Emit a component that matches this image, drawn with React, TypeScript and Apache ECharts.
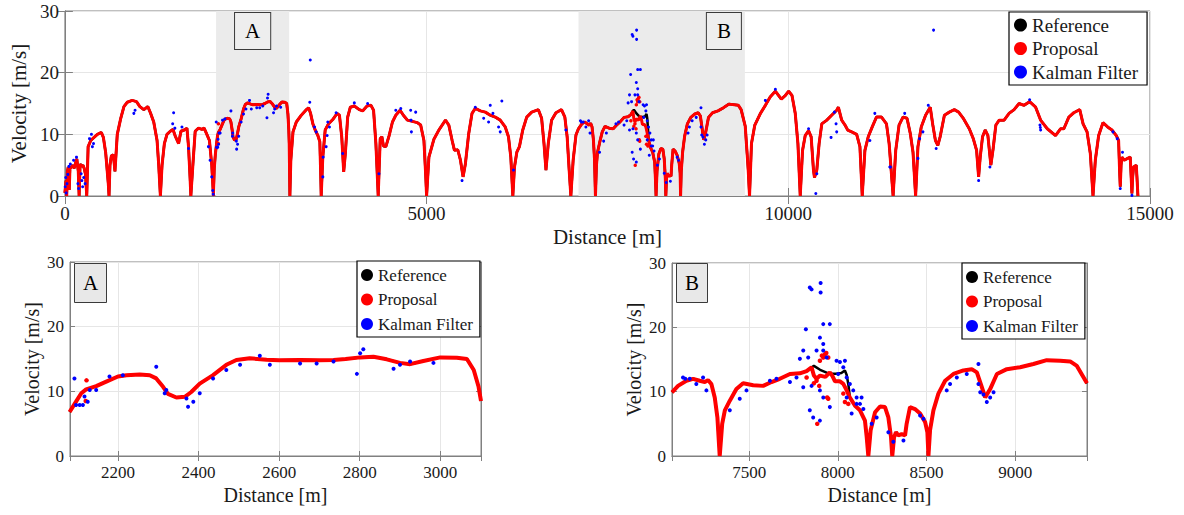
import React, { useEffect, useRef } from "react";
import * as echarts from "echarts";

type P = [number, number];

// ---- speed profile segments (distance [m], velocity [m/s]) ----
const seg0: P[] = [
  [0, 0.5], [15, 2.5], [25, 0], [35, 4.0], [46, 4.7], [60, 1.0], [70, 4.5], [90, 4.7], [105, 5.0], [130, 4.5],
  [150, 5.5], [165, 6.0], [175, 5.0], [185, 4.0], [197, 0], [210, 5.2], [230, 4.8], [250, 5.0], [266, 4.5],
  [285, 3.5], [302, 0], [321, 8.0], [357, 9.0], [403, 9.5], [449, 10.0], [504, 10.3], [532, 9.5], [564, 7.0],
  [600, 2.0], [610, 0], [623, 5.0], [642, 6.5], [669, 6.7], [680, 5.5], [692, 4.0], [724, 10.0], [770, 12.5],
  [816, 14.5], [862, 15.2], [930, 15.5], [990, 15.3], [1036, 14.5], [1091, 14.0], [1146, 14.5], [1182, 13.5],
  [1228, 12.0], [1274, 9.0], [1297, 5.0], [1320, 0], [1343, 5.0], [1375, 8.5], [1411, 10.0], [1457, 10.5],
  [1494, 10.8], [1526, 9.7], [1572, 8.5], [1604, 10.5], [1650, 10.7], [1687, 11.0], [1709, 8.0], [1730, 3.0],
  [1741, 0], [1769, 5.0], [1801, 10.5], [1847, 11.0], [1893, 10.8], [1925, 11.0], [1962, 10.0], [1998, 9.0],
  [2030, 5.0], [2053, 0], [2065, 4.5], [2080, 6.8],
];
const segA: P[] = [
  [2096, 8.4], [2109, 9.7], [2121, 10.3], [2146, 10.8], [2171, 11.5], [2200, 12.3], [2221, 12.5], [2254, 12.6],
  [2279, 12.5], [2295, 12.0], [2312, 10.7], [2324, 9.6], [2345, 9.05], [2366, 9.15], [2382, 9.9], [2403, 11.2],
  [2436, 12.5], [2469, 14.1], [2494, 14.85], [2527, 15.1], [2569, 14.9], [2600, 14.8], [2652, 14.85], [2700, 14.8],
  [2735, 14.85], [2765, 15.0], [2801, 15.25], [2834, 15.35], [2867, 14.95], [2900, 14.4], [2925, 14.2],
  [2958, 14.7], [3000, 15.25], [3041, 15.2], [3066, 15.0], [3083, 13.3], [3095, 10.7], [3101, 8.5],
];
const seg2: P[] = [
  [3110, 0], [3123, 5.8], [3153, 10.4], [3199, 12.0], [3268, 13.1], [3337, 14.0], [3369, 14.3], [3396, 13.4],
  [3428, 11.7], [3460, 10.7], [3497, 9.8], [3524, 8.8], [3535, 4.0], [3543, 0], [3565, 6.3], [3598, 10.7],
  [3643, 11.7], [3703, 12.4], [3763, 13.4], [3795, 13.1], [3827, 9.6], [3854, 3.9], [3877, 6.9], [3909, 12.8],
  [3946, 14.4], [4001, 14.6], [4070, 14.0], [4116, 13.8], [4176, 14.6], [4231, 14.7], [4267, 13.9], [4299, 8.5],
  [4331, 0], [4359, 9.3], [4382, 9.6], [4404, 8.1], [4437, 8.0], [4482, 9.8], [4528, 12.0], [4574, 13.1],
  [4633, 13.9], [4679, 13.1], [4734, 12.3], [4803, 12.1], [4871, 11.9], [4918, 11.5], [4963, 9.0], [4985, 4.0],
  [5000, 0], [5032, 6.3], [5101, 9.2], [5170, 10.7], [5261, 12.3], [5307, 11.5], [5353, 9.0], [5385, 7.4],
  [5431, 7.5], [5468, 5.8], [5504, 3.1], [5536, 5.2], [5582, 10.1], [5628, 13.4], [5673, 14.2], [5743, 13.8],
  [5812, 13.6], [5880, 13.1], [5949, 12.8], [6018, 12.3], [6087, 11.2], [6132, 9.6], [6164, 6.3], [6192, 0],
  [6215, 4.7], [6247, 7.1], [6283, 8.0], [6329, 10.7], [6384, 12.8], [6453, 13.6], [6545, 14.0], [6590, 12.6],
  [6623, 8.5], [6650, 4.2], [6682, 8.5], [6728, 12.3], [6788, 13.5], [6865, 14.0], [6911, 12.8], [6943, 9.6],
  [6971, 4.2], [6994, 0], [7026, 5.8], [7065, 9.9],
];
const segB1: P[] = [
  [7099, 10.9], [7146, 11.7], [7184, 12.0], [7221, 11.7], [7250, 11.5], [7268, 11.8], [7287, 11.2], [7306, 9.1],
  [7321, 6.0], [7334, 0], [7348, 5.0], [7363, 7.1], [7391, 8.6], [7428, 10.4], [7466, 11.3], [7523, 11.0],
  [7579, 10.9], [7626, 11.5], [7673, 12.0], [7730, 12.75], [7786, 12.85], [7824, 13.2], [7852, 13.8],
];
const referenceB: P[] = [
  [7865, 14.0], [7900, 13.4], [7950, 12.8], [7990, 12.8], [8020, 12.9], [8040, 13.3], [8050, 12.6], [8060, 11.0],
];
const proposalB: P[] = [
  [7865, 12.5], [7880, 12.0], [7900, 12.5], [7930, 12.3], [7955, 13.0], [7970, 12.4], [7984, 11.6], [8012, 11.6],
  [8031, 11.2], [8050, 10.2],
];
const segB2: P[] = [
  [8068, 9.1], [8097, 7.8], [8125, 7.1], [8153, 5.5], [8163, 2.9], [8172, 0], [8185, 4.0], [8210, 6.8],
  [8238, 7.7], [8266, 7.6], [8285, 6.0], [8300, 2.9], [8307, 0], [8317, 2.9], [8328, 3.7], [8341, 3.2],
  [8360, 3.4], [8379, 3.2], [8388, 5.0], [8407, 7.6], [8435, 7.3], [8464, 6.6], [8492, 5.3], [8505, 3.7],
  [8511, 0], [8520, 4.0], [8539, 7.1], [8567, 9.7], [8605, 11.7], [8652, 12.75], [8708, 13.3], [8755, 13.5],
  [8784, 13.0], [8806, 11.2], [8831, 9.1], [8859, 10.4], [8897, 12.75], [8953, 13.5], [9028, 13.8], [9103, 14.3],
  [9178, 14.9], [9254, 14.8], [9310, 14.7], [9348, 14.0], [9405, 11.3],
];
const seg3: P[] = [
  [9430, 7.0], [9446, 4.2], [9464, 0], [9491, 8.5], [9537, 11.5], [9615, 13.4], [9683, 14.7], [9752, 16.1],
  [9821, 17.0], [9904, 15.7], [9959, 16.3], [10005, 17.0], [10051, 16.3], [10096, 13.4], [10133, 8.5], [10165, 0],
  [10197, 7.4], [10234, 9.8], [10280, 10.6], [10316, 9.6], [10348, 4.2], [10362, 3.0], [10394, 4.2], [10426, 8.5],
  [10463, 11.7], [10532, 12.3], [10600, 13.1], [10669, 13.9], [10692, 14.4], [10738, 12.3], [10784, 11.5],
  [10821, 10.7], [10876, 10.4], [10945, 10.0], [10990, 8.0], [11022, 0], [11059, 7.4], [11105, 9.6], [11160, 11.2],
  [11219, 12.8], [11288, 12.8], [11357, 11.7], [11394, 8.5], [11449, 0], [11485, 7.4], [11531, 11.5], [11586, 12.8],
  [11641, 12.6], [11687, 10.1], [11724, 7.1], [11760, 0], [11792, 8.0], [11838, 11.2], [11898, 13.1], [11962, 14.4],
  [11998, 11.5], [12034, 9.0], [12067, 8.2], [12099, 9.6], [12158, 13.1], [12226, 13.6], [12295, 14.0],
  [12355, 13.6], [12419, 12.6], [12502, 10.9], [12557, 9.3], [12603, 7.4], [12631, 3.1], [12653, 6.3],
  [12685, 9.6], [12722, 10.7], [12759, 9.8], [12800, 5.0], [12832, 7.7], [12869, 11.5], [12915, 12.3],
  [12983, 12.3], [13052, 13.4], [13121, 14.0], [13190, 15.0], [13258, 14.7], [13336, 15.3], [13419, 14.4],
  [13488, 12.3], [13580, 10.9], [13694, 9.8], [13763, 10.9], [13809, 10.9], [13878, 12.8], [13946, 13.5],
  [14029, 14.0], [14075, 11.7], [14130, 10.4], [14175, 6.9], [14212, 0], [14244, 5.8], [14290, 9.8],
  [14350, 11.9], [14414, 11.2], [14474, 10.7], [14534, 9.8], [14566, 9.0], [14580, 4.0], [14589, 1.5],
  [14600, 5.0], [14612, 6.3], [14644, 5.8], [14690, 6.1], [14727, 6.3], [14740, 3.0], [14750, 0.4],
  [14760, 3.0], [14773, 4.7], [14810, 5.0], [14820, 3.0], [14833, 0],
];

const proposalOutliers: P[] = [
  [2120, 8.5], [2122, 11.7], [7824, 12.2], [7865, 11.3], [7880, 11.7], [7884, 5.0], [7895, 10.9], [7899, 14.8],
  [7910, 15.6], [7918, 15.3], [7927, 15.8], [7935, 16.0], [7946, 15.3], [7940, 9.1], [7946, 8.9], [8031, 9.7],
  [8040, 8.4], [8059, 8.1],
];

const kalmanPoints: P[] = [
  [5, 1.5], [12, 3.0], [18, 0.5], [28, 2.0], [40, 3.5], [55, 4.8], [75, 5.2], [120, 5.8], [160, 6.3], [180, 2.0],
  [190, 1.2], [225, 3.6], [235, 2.5], [245, 1.5], [260, 3.0], [280, 2.0], [340, 9.3], [367, 10.0], [380, 8.0],
  [395, 8.5], [953, 13.4], [970, 13.9], [1503, 13.5], [1490, 11.7], [1520, 11.0], [1618, 11.2], [1709, 7.7],
  [1984, 8.0], [2007, 5.8], [2030, 3.1], [2044, 0.9], [2050, 0.3],
  [2092, 12.0], [2096, 7.9], [2105, 7.9], [2113, 7.9], [2117, 9.2], [2125, 8.4], [2130, 10.2], [2146, 10.2],
  [2179, 12.3], [2212, 12.5], [2295, 13.8], [2316, 9.7], [2320, 10.2], [2370, 8.9], [2374, 7.6], [2387, 8.4],
  [2403, 9.7], [2436, 12.0], [2469, 13.3], [2503, 14.1], [2552, 15.5], [2577, 14.1], [2652, 14.3], [2693, 14.3],
  [2735, 14.6], [2793, 12.7], [2801, 15.9], [2809, 16.5], [2884, 13.5], [2900, 14.1], [2925, 14.6], [2983, 14.4],
  [3385, 15.2], [3392, 22.05], [3451, 11.2], [3474, 10.4], [3565, 3.1], [3570, 6.3], [3611, 8.0], [3625, 9.8],
  [3634, 12.0], [3657, 11.2], [3749, 13.5], [3840, 6.9], [4001, 15.1], [4185, 15.0], [4341, 3.6], [4574, 13.9],
  [4643, 14.2], [4780, 13.9], [4785, 12.3], [4790, 10.4], [4849, 13.6], [5490, 2.5], [5673, 14.4], [5789, 12.6],
  [5857, 12.0], [5880, 14.7], [5917, 13.4], [5995, 11.2], [6018, 10.4], [6040, 15.4], [6201, 4.2], [6925, 10.7],
  [7127, 12.2], [7140, 12.0], [7165, 12.0], [7202, 11.2], [7240, 12.2], [7259, 10.2], [7391, 7.1], [7447, 8.9],
  [7485, 10.2], [7617, 11.7], [7654, 12.0], [7730, 11.5], [7767, 12.2], [7786, 15.1], [7805, 16.4], [7805, 10.7],
  [7820, 19.7], [7833, 15.3], [7842, 26.2], [7842, 7.1], [7852, 25.9], [7852, 10.9], [7861, 6.0], [7880, 16.4],
  [7899, 18.4], [7899, 10.2], [7899, 5.5], [7903, 26.9], [7903, 25.4], [7918, 17.4], [7918, 20.5], [7918, 16.4],
  [7918, 9.1], [7937, 15.3], [7955, 20.5], [7955, 7.6], [7993, 14.8], [8002, 12.75], [8012, 14.6], [8031, 13.8],
  [8040, 14.8], [8050, 12.2], [8050, 9.1], [8068, 11.2], [8078, 6.6], [8087, 10.2], [8106, 9.1], [8106, 8.1],
  [8125, 8.1], [8134, 9.1], [8144, 7.3], [8191, 5.0], [8219, 6.0], [8285, 3.7], [8313, 2.2], [8370, 2.4],
  [8464, 6.3], [8483, 5.8], [8614, 10.2], [8633, 11.2], [8671, 12.2], [8727, 12.75], [8793, 14.3], [8793, 11.2],
  [8803, 9.9], [8821, 9.55], [8840, 8.4], [8859, 9.1], [8878, 9.9],
  [9683, 15.5], [9821, 17.3], [10280, 10.9], [10380, 0.4], [10394, 3.6], [10591, 9.5], [10637, 13.6], [10660, 11.7],
  [10669, 10.4], [11128, 9.0], [11196, 13.4], [11403, 4.7], [11412, 4.7], [11609, 13.4], [11792, 6.1], [11815, 9.3],
  [11861, 10.4], [11935, 14.7], [12008, 26.9], [12044, 7.7], [12631, 2.5], [12787, 4.7], [13336, 15.6],
  [13479, 11.5], [13484, 11.1], [13488, 10.7], [14488, 10.4], [14547, 9.3], [14589, 1.2], [14620, 7.1], [14750, 0.1],
];

const bandA = [2090, 3100];
const bandB = [7100, 9400];
const fullRange = [0, 15000];
const rangeA = [2081, 3101];
const rangeB = [7065, 9405];
const velocityRange = [0, 30];
const seriesNames = ["Reference", "Proposal", "Kalman Filter"];

const referenceProfile: P[] = [...seg0, ...segA, ...seg2, ...segB1, ...referenceB, ...segB2, ...seg3];
const proposalProfile: P[] = [...seg0, ...segA, ...seg2, ...segB1, ...proposalB, ...segB2, ...seg3];

const FONT = "Liberation Serif, DejaVu Serif, Times New Roman, serif";
const TXT = "#1a1a1a";
const AXC = "#808080";

export default function App() {
  const ref = useRef<HTMLDivElement>(null);
  useEffect(() => {
    if (!ref.current) return;
    const chart = echarts.init(ref.current, undefined, { renderer: "svg" });

    const grids = [
      { left: 59, top: 11, width: 1091, height: 185 },
      { left: 70, top: 262, width: 411, height: 194 },
      { left: 672, top: 263, width: 415, height: 193 },
    ];
    const xr = [fullRange, rangeA, rangeB];
    const sizes = [
      { tick: 19, name: 21, nameGapX: 30, nameGapY: 32, tickLen: 8, red: 3, black: 2.5, dot: 3, legend: 19 },
      { tick: 17, name: 20, nameGapX: 29, nameGapY: 28, tickLen: 5, red: 4, black: 2.5, dot: 4, legend: 17 },
      { tick: 17, name: 20, nameGapX: 29, nameGapY: 28, tickLen: 5, red: 4, black: 2.5, dot: 4, legend: 17 },
    ];
    // keep only the part of a profile that lies in (or just before) a zoomed range
    const crop = (pts: P[], r: number[]) => pts.filter((p) => p[0] >= r[0] - 15 && p[0] <= r[1] + 1);

    const xAxis: any[] = [];
    const yAxis: any[] = [];
    grids.forEach((_, g) => {
      const s = sizes[g];
      const xBase: any = {
        type: "value",
        gridIndex: g,
        min: xr[g][0],
        max: xr[g][1],
        axisLine: { show: true, lineStyle: { color: AXC, width: 1 } },
        axisTick: { show: true, inside: true, length: s.tickLen, lineStyle: { color: AXC } },
      };
      if (g === 0) xBase.interval = 5000;
      else xBase.splitNumber = 5;
      xAxis.push({
        ...xBase,
        position: "bottom",
        name: "Distance [m]",
        nameLocation: "middle",
        nameGap: s.nameGapX,
        nameTextStyle: { fontFamily: FONT, fontSize: s.name, color: TXT },
        axisLabel: {
          show: true,
          fontFamily: FONT,
          fontSize: s.tick,
          color: TXT,
          margin: 8,
          showMinLabel: g === 0,
          showMaxLabel: g === 0,
          formatter: (v: number) => String(Math.round(v)),
        },
        splitLine: { show: true, lineStyle: { color: "#e6e6e6", width: 1 } },
      });
      xAxis.push({
        ...xBase,
        position: "top",
        axisLabel: { show: false },
        splitLine: { show: false },
      });
      const yBase: any = {
        type: "value",
        gridIndex: g,
        min: velocityRange[0],
        max: velocityRange[1],
        interval: 10,
        axisLine: { show: true, lineStyle: { color: AXC, width: 1 } },
        axisTick: { show: true, inside: true, length: s.tickLen, lineStyle: { color: AXC } },
      };
      yAxis.push({
        ...yBase,
        position: "left",
        name: "Velocity [m/s]",
        nameLocation: "middle",
        nameRotate: 90,
        nameGap: s.nameGapY,
        nameTextStyle: { fontFamily: FONT, fontSize: s.name, color: TXT },
        axisLabel: { show: true, fontFamily: FONT, fontSize: s.tick, color: TXT, margin: 6 },
        splitLine: { show: true, lineStyle: { color: "#e6e6e6", width: 1 } },
      });
      yAxis.push({
        ...yBase,
        position: "right",
        axisLabel: { show: false },
        splitLine: { show: false },
      });
    });

    const bandLabel = (text: string, pos: string, offset: number[]) => ({
      show: true,
      formatter: text,
      position: pos,
      distance: 2,
      offset,
      fontFamily: FONT,
      fontSize: 21,
      lineHeight: 20,
      color: "#000",
      backgroundColor: "#eeeeee",
      borderColor: "#3a3a3a",
      borderWidth: 1,
      padding: [8, 10, 8, 10],
    });

    const series: any[] = [
      {
        type: "line",
        xAxisIndex: 0,
        yAxisIndex: 0,
        data: [],
        z: 0,
        silent: true,
        markArea: {
          silent: true,
          itemStyle: { color: "#ebebeb", opacity: 1 },
          data: [
            [{ xAxis: bandA[0], label: bandLabel("A", "insideTop", [0, 0]) }, { xAxis: bandA[1] }],
            [{ xAxis: bandB[0], label: bandLabel("B", "insideTopRight", [-2, 0]) }, { xAxis: bandB[1] }],
          ],
        },
      },
    ];
    grids.forEach((_, g) => {
      const s = sizes[g];
      const xi = g * 2;
      const yi = g * 2;
      const refData = g === 0 ? referenceProfile : crop(referenceProfile, xr[g]);
      const propData = g === 0 ? proposalProfile : crop(proposalProfile, xr[g]);
      series.push({
        name: seriesNames[0],
        type: "line",
        xAxisIndex: xi,
        yAxisIndex: yi,
        data: refData,
        showSymbol: false,
        symbol: "none",
        color: "#000000",
        lineStyle: { color: "#000000", width: s.black },
        z: 2,
        silent: true,
      });
      series.push({
        name: seriesNames[1],
        type: "line",
        xAxisIndex: xi,
        yAxisIndex: yi,
        data: propData,
        showSymbol: false,
        symbol: "none",
        color: "#ff0000",
        lineStyle: { color: "#ff0000", width: s.red },
        z: 3,
        silent: true,
      });
      series.push({
        name: seriesNames[1],
        type: "scatter",
        xAxisIndex: xi,
        yAxisIndex: yi,
        data: proposalOutliers,
        symbol: "circle",
        symbolSize: s.dot + 0.5,
        color: "#ff0000",
        itemStyle: { color: "#ff0000", opacity: 1 },
        z: 3,
        silent: true,
      });
      series.push({
        name: seriesNames[2],
        type: "scatter",
        xAxisIndex: xi,
        yAxisIndex: yi,
        data: kalmanPoints,
        symbol: "circle",
        symbolSize: s.dot,
        color: "#0000ff",
        itemStyle: { color: "#0000ff", opacity: 1 },
        z: 4,
        silent: true,
      });
    });

    const legendBase = (g: number, left: number, top: number) => ({
      show: true,
      data: seriesNames,
      orient: "vertical",
      left,
      top,
      icon: "circle",
      itemWidth: g === 0 ? 13 : 12,
      itemHeight: g === 0 ? 13 : 12,
      itemGap: g === 0 ? 3.5 : 4.5,
      padding: g === 0 ? [3, 9, 3, 5] : [4, 7, 3, 4],
      borderColor: "#000",
      borderWidth: 1.2,
      borderRadius: 0,
      backgroundColor: "#ffffff",
      selectedMode: false,
      itemStyle: { opacity: 1 },
      textStyle: { fontFamily: FONT, fontSize: sizes[g].legend, color: TXT, lineHeight: 20 },
    });

    const boxTitle = (text: string, left: number, top: number) => ({
      text,
      left,
      top,
      backgroundColor: "#e8e8e8",
      borderColor: "#3a3a3a",
      borderWidth: 1,
      padding: [9, 9, 9, 9],
      textStyle: { fontFamily: FONT, fontSize: 21, fontWeight: "normal", color: "#000", lineHeight: 20 },
    });

    chart.setOption({
      animation: false,
      backgroundColor: "#ffffff",
      textStyle: { fontFamily: FONT },
      title: [boxTitle("A", 74, 264), boxTitle("B", 676, 264)],
      legend: [legendBase(0, 1009, 12), legendBase(1, 357, 261), legendBase(2, 962, 263)],
      grid: grids.map((gr) => ({ ...gr, show: true, borderColor: AXC, borderWidth: 1, backgroundColor: "transparent", containLabel: false })),
      xAxis,
      yAxis,
      series,
    });
    return () => chart.dispose();
  }, []);
  return <div ref={ref} style={{ position: "fixed", left: 0, top: 0, width: 1184, height: 515 }} />;
}
